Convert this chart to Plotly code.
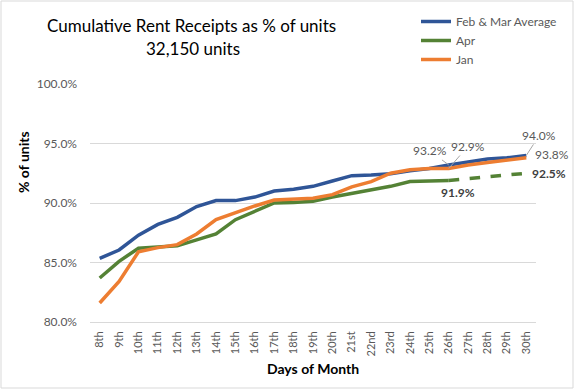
import plotly.graph_objects as go

days = ["8th", "9th", "10th", "11th", "12th", "13th", "14th", "15th", "16th", "17th",
        "18th", "19th", "20th", "21st", "22nd", "23rd", "24th", "25th", "26th", "27th",
        "28th", "29th", "30th"]

feb_mar_avg = [85.35, 86.05, 87.3, 88.2, 88.8, 89.7, 90.2, 90.2, 90.5, 91.0,
               91.15, 91.4, 91.85, 92.3, 92.35, 92.45, 92.7, 92.9, 93.2, 93.45,
               93.7, 93.8, 94.0]
apr = [83.7, 85.1, 86.2, 86.3, 86.4, 86.9, 87.4, 88.6, 89.3, 90.0,
       90.05, 90.15, 90.5, 90.8, 91.15, 91.4, 91.8, 91.85, 91.9]
apr_proj_days = ["26th", "27th", "28th", "29th", "30th"]
apr_proj = [91.9, 92.05, 92.2, 92.35, 92.5]
jan = [81.6, 83.4, 85.9, 86.25, 86.5, 87.4, 88.6, 89.2, 89.75, 90.25,
       90.35, 90.4, 90.7, 91.35, 91.8, 92.5, 92.8, 92.9, 92.9, 93.2,
       93.4, 93.6, 93.8]

y_ticks = [80, 85, 90, 95, 100]
y_tick_text = ["80.0%", "85.0%", "90.0%", "95.0%", "100.0%"]

BLUE = "#2F5597"
GREEN = "#548235"
ORANGE = "#ED7D31"
GRAY = "#595959"
FONT = "Lato"

fig = go.Figure()
fig.add_trace(go.Scatter(x=days, y=feb_mar_avg, mode="lines", name="Feb & Mar Average",
                         line=dict(color=BLUE, width=3.5)))
fig.add_trace(go.Scatter(x=days[:len(apr)], y=apr, mode="lines", name="Apr",
                         line=dict(color=GREEN, width=3.5)))
fig.add_trace(go.Scatter(x=days, y=jan, mode="lines", name="Jan",
                         line=dict(color=ORANGE, width=3.5)))
fig.add_trace(go.Scatter(x=apr_proj_days, y=apr_proj, mode="lines", showlegend=False,
                         line=dict(color=GREEN, width=3.5, dash="dash")))

L, R, T, B = 90, 42, 84, 68
W, H = 578, 390
pw, ph = W - L - R, H - T - B


def px(xp):
    return (xp - L) / pw


def py(yp):
    return (H - B - yp) / ph


ann = []
lab_font = dict(family=FONT, size=12, color=GRAY)
bold_font = dict(family=FONT, size=12, color="#404040")
ann.append(dict(x="26th", y=feb_mar_avg[18], text="93.2%", showarrow=True, arrowhead=0,
                arrowcolor="#A6A6A6", arrowwidth=1, ax=-19, ay=-14, font=lab_font))
ann.append(dict(x="26th", y=jan[18], text="92.9%", showarrow=True, arrowhead=0,
                arrowcolor="#A6A6A6", arrowwidth=1, ax=19, ay=-22, font=lab_font))
ann.append(dict(x="30th", y=feb_mar_avg[22], text="94.0%", showarrow=True, arrowhead=0,
                arrowcolor="#A6A6A6", arrowwidth=1, ax=13, ay=-20, font=lab_font))
ann.append(dict(x="30th", y=jan[22], text="93.8%", showarrow=False, xshift=26, yshift=3,
                font=lab_font))
ann.append(dict(x="30th", y=apr_proj[-1], text="<b>92.5%</b>", showarrow=False, xshift=23,
                yshift=0, font=bold_font))
ann.append(dict(x="26th", y=apr[-1], text="<b>91.9%</b>", showarrow=False, xshift=9,
                yshift=-12.5, font=bold_font))
# titles
ann.append(dict(xref="paper", yref="paper", x=px(191), y=py(25),
                text="Cumulative Rent Receipts as % of units",
                showarrow=False, font=dict(family=FONT, size=17, color="#000000"),
                xanchor="center", yanchor="middle"))
ann.append(dict(xref="paper", yref="paper", x=px(193), y=py(48),
                text="32,150 units",
                showarrow=False, font=dict(family=FONT, size=17, color="#000000"),
                xanchor="center", yanchor="middle"))
ann.append(dict(xref="paper", yref="paper", x=px(23), y=py(162),
                text="<b>% of units</b>", textangle=-90, showarrow=False,
                font=dict(family=FONT, size=14, color="#000000"),
                xanchor="center", yanchor="middle"))
ann.append(dict(xref="paper", yref="paper", x=px(313), y=py(368),
                text="<b>Days of Month</b>", showarrow=False,
                font=dict(family=FONT, size=14, color="#000000"),
                xanchor="center", yanchor="middle"))

fig.update_layout(
    width=W, height=H,
    margin=dict(l=L, r=R, t=T, b=B, autoexpand=False),
    paper_bgcolor="white", plot_bgcolor="white",
    font=dict(family=FONT, color=GRAY),
    showlegend=True,
    legend=dict(x=px(416), y=py(7), xanchor="left", yanchor="top",
                font=dict(family=FONT, size=12, color=GRAY), bgcolor="rgba(0,0,0,0)",
                tracegroupgap=0, itemwidth=30),
    annotations=ann,
    shapes=[dict(type="rect", xref="paper", yref="paper",
                 x0=px(1), x1=px(573),
                 y0=py(388), y1=py(1),
                 line=dict(color="#D9D9D9", width=1), fillcolor="rgba(0,0,0,0)")],
)
fig.update_xaxes(type="category", categoryorder="array", categoryarray=days,
                 tickangle=-90, tickfont=dict(family=FONT, size=11, color=GRAY),
                 showgrid=False, showline=True, linecolor="#D9D9D9", linewidth=1,
                 ticks="", ticklabelstandoff=4, range=[-0.5, 22.5])
fig.update_yaxes(range=[80, 100], tickvals=y_ticks, ticktext=y_tick_text,
                 tickfont=dict(family=FONT, size=12, color=GRAY),
                 showgrid=True, gridcolor="#D9D9D9", gridwidth=1, zeroline=False,
                 showline=False, ticks="", ticklabelstandoff=12)

fig.write_html(
    "out.html",
    config={"displayModeBar": False},
    post_script=("document.body.style.margin='0';document.body.style.overflow='hidden';"
                 "var gd=document.getElementById('{plot_id}');"
                 "gd.style.position='absolute';gd.style.top='0px';gd.style.left='0px';"),
)
